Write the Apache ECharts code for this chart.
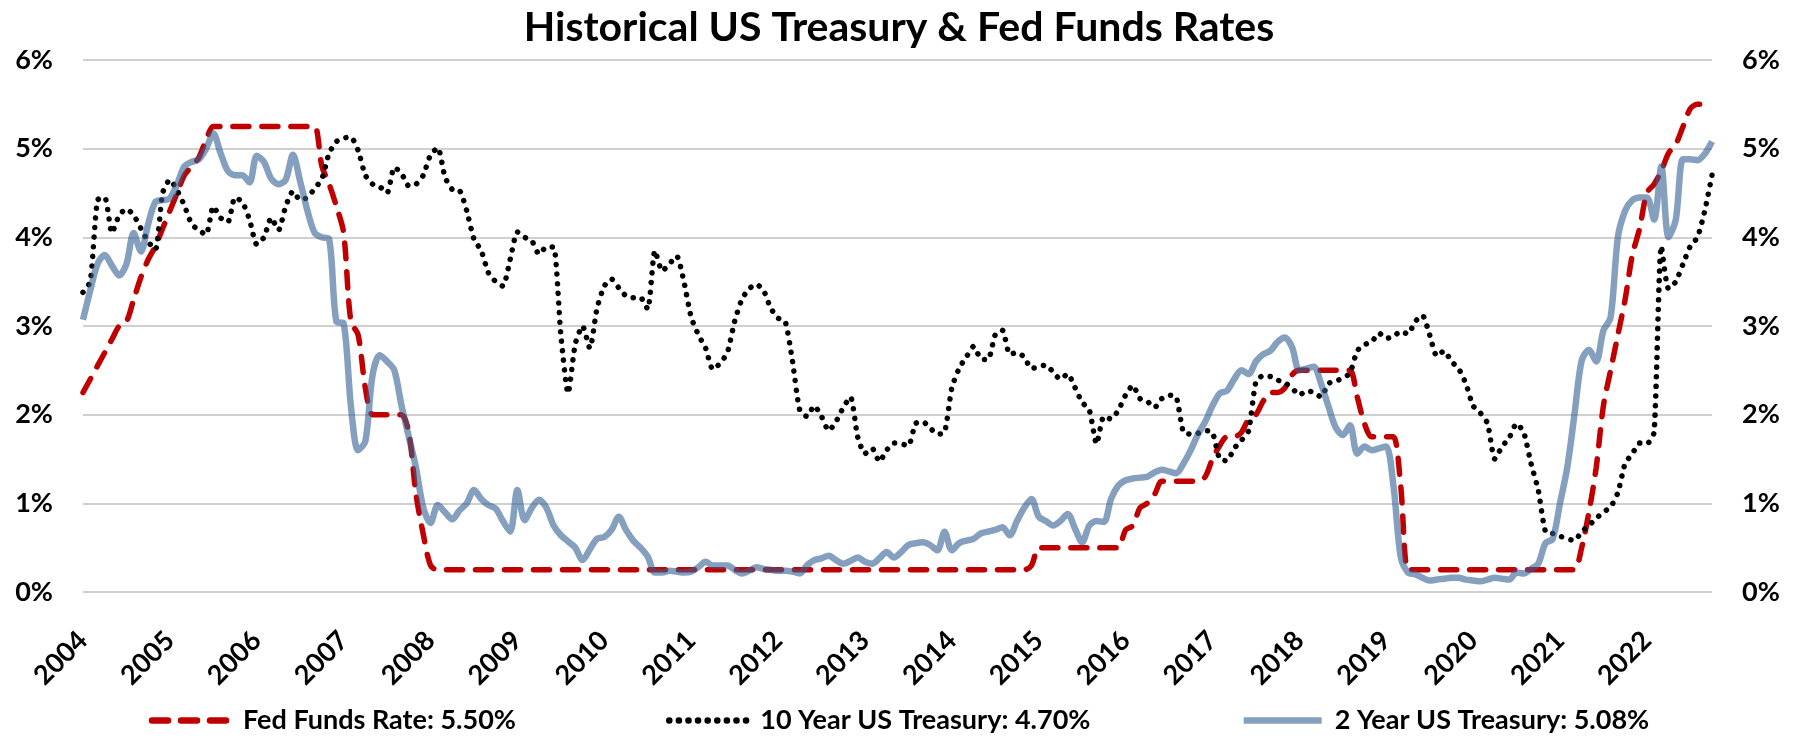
<!DOCTYPE html>
<html>
<head>
<meta charset="utf-8">
<title>Historical US Treasury & Fed Funds Rates</title>
<script src="https://cdn.jsdelivr.net/npm/echarts@6/dist/echarts.min.js"></script>
<style>
  html, body { margin: 0; padding: 0; background: #fff; }
  #chart { width: 1798px; height: 739px; }
</style>
</head>
<body>
<div id="chart"></div>
<script>
// year labels on the x axis, one every 12 monthly points
const yearLabels = ['2004', '2005', '2006', '2007', '2008', '2009', '2010', '2011', '2012', '2013',
  '2014', '2015', '2016', '2017', '2018', '2019', '2020', '2021', '2022']
const monthsInLastYear = 10

// monthly values, % (12 per row)
const fedFunds = [
  2.25, 2.4, 2.55, 2.7, 2.85, 3.0, 3.05, 3.3, 3.55, 3.75, 3.9, 4.1,
  4.3, 4.5, 4.7, 4.8, 4.9, 5.1, 5.25, 5.25, 5.25, 5.25, 5.25, 5.25,
  5.25, 5.25, 5.25, 5.25, 5.25, 5.25, 5.25, 5.25, 5.25, 4.8, 4.6, 4.35,
  4.05, 3.05, 2.9, 2.3, 2.0, 2.0, 2.0, 2.0, 2.0, 1.8, 1.1, 0.65,
  0.3, 0.25, 0.25, 0.25, 0.25, 0.25, 0.25, 0.25, 0.25, 0.25, 0.25, 0.25,
  0.25, 0.25, 0.25, 0.25, 0.25, 0.25, 0.25, 0.25, 0.25, 0.25, 0.25, 0.25,
  0.25, 0.25, 0.25, 0.25, 0.25, 0.25, 0.25, 0.25, 0.25, 0.25, 0.25, 0.25,
  0.25, 0.25, 0.25, 0.25, 0.25, 0.25, 0.25, 0.25, 0.25, 0.25, 0.25, 0.25,
  0.25, 0.25, 0.25, 0.25, 0.25, 0.25, 0.25, 0.25, 0.25, 0.25, 0.25, 0.25,
  0.25, 0.25, 0.25, 0.25, 0.25, 0.25, 0.25, 0.25, 0.25, 0.25, 0.25, 0.25,
  0.25, 0.25, 0.25, 0.25, 0.25, 0.25, 0.25, 0.25, 0.25, 0.25, 0.25, 0.3,
  0.5, 0.5, 0.5, 0.5, 0.5, 0.5, 0.5, 0.5, 0.5, 0.5, 0.5, 0.5,
  0.7, 0.75, 0.95, 1.0, 1.1, 1.25, 1.25, 1.25, 1.25, 1.25, 1.25, 1.3,
  1.5, 1.65, 1.75, 1.75, 1.8, 1.95, 2.0, 2.15, 2.25, 2.25, 2.3, 2.45,
  2.5, 2.5, 2.5, 2.5, 2.5, 2.5, 2.5, 2.5, 2.2, 1.9, 1.75, 1.75,
  1.75, 1.75, 1.2, 0.25, 0.25, 0.25, 0.25, 0.25, 0.25, 0.25, 0.25, 0.25,
  0.25, 0.25, 0.25, 0.25, 0.25, 0.25, 0.25, 0.25, 0.25, 0.25, 0.25, 0.25,
  0.25, 0.25, 0.25, 0.5, 0.9, 1.4, 2.1, 2.5, 2.9, 3.3, 3.8, 4.1,
  4.5, 4.6, 4.75, 4.95, 5.05, 5.25, 5.45, 5.5, 5.5, 5.5
]

const tenYear = [
  3.38, 3.5, 4.42, 4.45, 4.05, 4.25, 4.32, 4.25, 4.1, 3.95, 3.86, 4.5,
  4.65, 4.53, 4.36, 4.15, 4.08, 4.03, 4.35, 4.22, 4.17, 4.45, 4.4, 4.2,
  3.92, 4.0, 4.22, 4.08, 4.35, 4.52, 4.42, 4.45, 4.55, 4.66, 4.95, 5.08,
  5.12, 5.13, 4.98, 4.7, 4.6, 4.57, 4.5, 4.79, 4.72, 4.58, 4.6, 4.7,
  4.93, 5.01, 4.68, 4.54, 4.53, 4.3, 3.98, 3.85, 3.6, 3.5, 3.45, 3.75,
  4.06, 4.0, 3.96, 3.81, 3.89, 3.89, 2.9, 2.24, 2.8, 3.0, 2.75, 3.2,
  3.45, 3.53, 3.43, 3.34, 3.32, 3.32, 3.19, 3.85, 3.62, 3.7, 3.79, 3.5,
  3.1, 2.9, 2.75, 2.51, 2.58, 2.7, 3.05, 3.3, 3.42, 3.47, 3.4, 3.2,
  3.09, 3.05, 2.6, 2.05, 1.98, 2.1, 1.98, 1.82, 1.92, 2.08, 2.2, 1.75,
  1.56, 1.62, 1.47, 1.6, 1.68, 1.67, 1.65, 1.9, 1.92, 1.85, 1.78, 1.8,
  2.3, 2.52, 2.65, 2.77, 2.63, 2.62, 2.9, 2.95, 2.68, 2.7, 2.65, 2.52,
  2.54, 2.56, 2.48, 2.4, 2.46, 2.31, 2.14, 2.05, 1.67, 1.98, 1.95, 2.05,
  2.22, 2.33, 2.18, 2.15, 2.08, 2.18, 2.22, 2.2, 1.8, 1.78, 1.79, 1.82,
  1.8, 1.5, 1.48, 1.62, 1.71, 1.82, 2.37, 2.44, 2.43, 2.39, 2.36, 2.3,
  2.22, 2.27, 2.25, 2.2, 2.35, 2.38, 2.41, 2.47, 2.72, 2.79, 2.82, 2.92,
  2.86, 2.88, 2.94, 2.91, 3.05, 3.12, 2.9, 2.66, 2.72, 2.6, 2.52, 2.35,
  2.1, 2.02, 1.9, 1.5, 1.64, 1.74, 1.9, 1.8, 1.45, 1.15, 0.68, 0.66,
  0.63, 0.6, 0.58, 0.68, 0.75, 0.83, 0.9, 0.96, 1.12, 1.45, 1.56, 1.68,
  1.67, 1.8, 3.9, 3.42, 3.5, 3.7, 3.9, 4.0, 4.3, 4.7
]

const twoYear = [
  3.07, 3.4, 3.7, 3.8, 3.68, 3.57, 3.7, 4.05, 3.84, 4.15, 4.4, 4.42,
  4.44, 4.6, 4.8, 4.85, 4.88, 5.0, 5.17, 4.95, 4.75, 4.7, 4.7, 4.62,
  4.92, 4.85, 4.66, 4.6, 4.65, 4.93, 4.63, 4.3, 4.05, 4.0, 3.98, 3.05,
  3.03, 2.1, 1.6, 1.7, 2.45, 2.67, 2.6, 2.5, 2.1, 1.75, 1.4, 0.95,
  0.78, 0.98, 0.9, 0.82, 0.92, 1.0, 1.15, 1.05, 0.98, 0.94, 0.8, 0.68,
  1.15, 0.81, 0.95, 1.04, 0.95, 0.75, 0.64, 0.57, 0.5, 0.36, 0.48, 0.6,
  0.62, 0.7, 0.85, 0.7, 0.58, 0.5, 0.4, 0.22, 0.22, 0.24, 0.23, 0.22,
  0.23, 0.28, 0.34, 0.3, 0.3, 0.3, 0.25, 0.21, 0.24, 0.28, 0.26, 0.25,
  0.24, 0.24, 0.23, 0.21, 0.3, 0.36, 0.38, 0.41, 0.36, 0.32, 0.35, 0.39,
  0.34, 0.32, 0.38, 0.45, 0.39, 0.45, 0.53, 0.55, 0.56, 0.53, 0.47, 0.68,
  0.47, 0.55, 0.58, 0.6, 0.66, 0.68, 0.7, 0.73, 0.64, 0.8, 0.95, 1.05,
  0.85, 0.8, 0.75, 0.8, 0.88, 0.72, 0.56, 0.75, 0.8, 0.79, 1.05, 1.2,
  1.26, 1.28, 1.29, 1.3, 1.35, 1.38, 1.36, 1.34, 1.45, 1.6, 1.78, 1.92,
  2.1, 2.24, 2.27, 2.4, 2.5, 2.46, 2.6, 2.68, 2.72, 2.82, 2.87, 2.76,
  2.5, 2.52, 2.54, 2.35, 2.1, 1.86, 1.77, 1.88, 1.56, 1.64, 1.6, 1.62,
  1.64, 1.2, 0.4, 0.22, 0.2, 0.16, 0.13, 0.14, 0.15, 0.16, 0.16, 0.14,
  0.13, 0.12, 0.14, 0.16, 0.15, 0.14, 0.22, 0.21, 0.26, 0.32, 0.55, 0.6,
  1.0, 1.4, 2.0, 2.61, 2.73, 2.6, 2.95, 3.1, 4.0, 4.3, 4.42, 4.45,
  4.45, 4.2, 4.8, 4.0, 4.2, 4.88, 4.88, 4.87, 4.94, 5.08
]

// one category per month, labelled by its year
const months = []
yearLabels.forEach((y, i) => {
  const n = i === yearLabels.length - 1 ? monthsInLastYear : 12
  for (let m = 1; m <= n; m++) {
    months.push(y + '-' + (m < 10 ? '0' + m : m))
  }
})

const last = arr => arr[arr.length - 1].toFixed(2) + '%'
const names = [
  'Fed Funds Rate: ' + last(fedFunds),
  '10 Year US Treasury: ' + last(tenYear),
  '2 Year US Treasury: ' + last(twoYear)
]

const font = 'Lato, "Open Sans", sans-serif'
const labelStyle = { color: '#000', fontFamily: font, fontWeight: 'bold', fontSize: 27 }

const chart = echarts.init(document.getElementById('chart'))
chart.setOption({
  animation: false,
  backgroundColor: '#fff',
  title: {
    text: 'Historical US Treasury & Fed Funds Rates',
    left: 'center',
    top: 2,
    textStyle: { color: '#000', fontFamily: font, fontWeight: 'bold', fontSize: 41 }
  },
  legend: {
    bottom: 0,
    left: 'center',
    itemWidth: 78,
    itemHeight: 14,
    itemGap: 150,
    itemStyle: { opacity: 0 },
    lineStyle: { width: 6.5 },
    textStyle: { color: '#000', fontFamily: font, fontWeight: 'bold', fontSize: 27, padding: [0, 0, 0, 8] },
    data: names
  },
  grid: { left: 83, right: 86, top: 60, bottom: 147 },
  xAxis: {
    type: 'category',
    boundaryGap: false,
    data: months,
    axisLine: { show: false },
    axisTick: { show: false },
    splitLine: { show: false },
    axisLabel: Object.assign({
      interval: i => i % 12 === 0,
      formatter: v => v.slice(0, 4),
      rotate: 45,
      margin: 44
    }, labelStyle)
  },
  yAxis: [
    {
      type: 'value',
      min: 0,
      max: 6,
      interval: 1,
      position: 'left',
      axisLine: { show: false },
      axisTick: { show: false },
      axisLabel: Object.assign({ formatter: '{value}%', margin: 30 }, labelStyle),
      splitLine: { lineStyle: { color: '#d0d0d0', width: 2 } }
    },
    {
      type: 'value',
      min: 0,
      max: 6,
      interval: 1,
      position: 'right',
      axisLine: { show: false },
      axisTick: { show: false },
      axisLabel: Object.assign({ formatter: '{value}%', margin: 30 }, labelStyle),
      splitLine: { show: false }
    }
  ],
  series: [
    {
      name: names[0],
      type: 'line',
      data: fedFunds,
      smooth: 0.3,
      symbol: 'none',
      color: '#c00000',
      lineStyle: { color: '#c00000', width: 5.5, type: [16, 13], cap: 'round' }
    },
    {
      name: names[1],
      type: 'line',
      data: tenYear,
      smooth: 0.2,
      symbol: 'none',
      color: '#000',
      lineStyle: { color: '#000', width: 5.5, type: [0.1, 9.5], cap: 'round' }
    },
    {
      name: names[2],
      type: 'line',
      data: twoYear,
      smooth: 0.3,
      symbol: 'none',
      color: 'rgba(52,96,146,0.6)',
      lineStyle: { color: 'rgba(52,96,146,0.6)', width: 6.5 }
    }
  ]
})
</script>
</body>
</html>
